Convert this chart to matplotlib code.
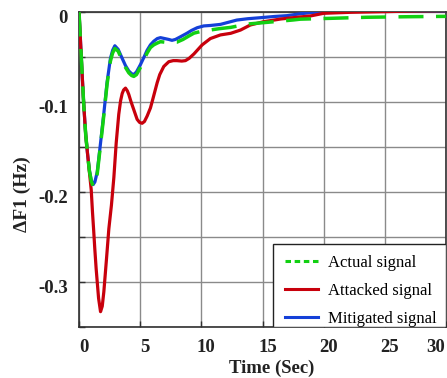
import numpy as np
import matplotlib
matplotlib.use("Agg")
import matplotlib.pyplot as plt
from matplotlib.lines import Line2D
from matplotlib.patches import Rectangle
from matplotlib.transforms import ScaledTranslation

# values
t_mitigated = [0, 0.12, 0.25, 0.39, 0.55, 0.7, 0.85, 1.0, 1.16, 1.3, 1.49, 1.76, 2.03,
               2.3, 2.57, 2.75, 2.93, 3.2, 3.53, 3.8, 4.07, 4.3, 4.48, 4.7, 5.02, 5.3,
               5.57, 5.84, 6.11, 6.4, 6.66, 7.0, 7.34, 7.6, 7.88, 8.3, 8.84, 9.2, 9.66,
               10.2, 10.74, 11.56, 12.2, 12.9, 13.8, 14.8, 16.0, 17.0, 18.1, 19.0, 20.0,
               22.0, 25.0, 28.0, 30.0]
v_mitigated = [0, -0.032, -0.068, -0.104, -0.137, -0.158, -0.176, -0.187, -0.192, -0.189,
               -0.178, -0.146, -0.113, -0.078, -0.052, -0.043, -0.038, -0.042, -0.052,
               -0.060, -0.066, -0.069, -0.070, -0.067, -0.059, -0.051, -0.043, -0.037,
               -0.033, -0.030, -0.029, -0.030, -0.031, -0.032, -0.031, -0.028, -0.024,
               -0.021, -0.018, -0.016, -0.0155, -0.0143, -0.012, -0.0095, -0.008, -0.0069,
               -0.0055, -0.0046, -0.0025, -0.0012, -0.0002, 0.0003, 0.0006, 0.0008, 0.0008]

t_actual = [0, 0.12, 0.25, 0.39, 0.55, 0.7, 0.85, 1.0, 1.16, 1.3, 1.49, 1.76, 2.03,
            2.3, 2.57, 2.75, 2.93, 3.2, 3.53, 3.8, 4.07, 4.3, 4.48, 4.7, 5.02, 5.3,
            5.57, 5.84, 6.11, 6.4, 6.66, 7.0, 7.34, 8.0, 8.5, 9.0, 9.4, 10.0, 10.74,
            11.5, 12.4, 13.0, 13.7, 15.4, 17.5, 18.1, 20.5, 23.5, 26.8, 30.0]
v_actual = [0, -0.032, -0.068, -0.104, -0.137, -0.158, -0.177, -0.188, -0.194, -0.191,
            -0.180, -0.148, -0.115, -0.080, -0.055, -0.046, -0.041, -0.044, -0.054,
            -0.062, -0.068, -0.071, -0.072, -0.070, -0.062, -0.054, -0.046, -0.040,
            -0.037, -0.035, -0.0335, -0.034, -0.034, -0.034, -0.031, -0.027, -0.024,
            -0.022, -0.0205, -0.019, -0.0176, -0.016, -0.014, -0.012, -0.0094, -0.0085,
            -0.0076, -0.0064, -0.0058, -0.0054]

t_attacked = [0, 0.12, 0.25, 0.39, 0.55, 0.7, 0.85, 1.0, 1.1, 1.2, 1.29, 1.4, 1.49, 1.6,
              1.76, 1.9, 2.03, 2.25, 2.44, 2.65, 2.85, 3.04, 3.25, 3.4, 3.53, 3.65, 3.8,
              3.95, 4.07, 4.25, 4.48, 4.75, 4.95, 5.16, 5.35, 5.57, 5.84, 6.0, 6.39, 6.6,
              6.93, 7.34, 7.7, 8.0, 8.4, 8.7, 9.0, 9.4, 9.8, 10.07, 10.74, 11.56, 12.4,
              13.2, 14.0, 15.1, 16.5, 18.1, 18.9, 20.0, 22.2, 24.9, 27.6, 30.0]
v_attacked = [0, -0.032, -0.068, -0.104, -0.137, -0.158, -0.178, -0.198, -0.222, -0.243,
              -0.263, -0.285, -0.300, -0.318, -0.333, -0.327, -0.311, -0.274, -0.241,
              -0.215, -0.184, -0.146, -0.114, -0.099, -0.091, -0.087, -0.085, -0.088,
              -0.092, -0.100, -0.109, -0.1196, -0.123, -0.124, -0.122, -0.116, -0.107,
              -0.099, -0.079, -0.070, -0.061, -0.0557, -0.0545, -0.0545, -0.055, -0.0545,
              -0.052, -0.047, -0.041, -0.037, -0.030, -0.026, -0.0242, -0.0206, -0.015,
              -0.0113, -0.0083, -0.006, -0.005, -0.002, -0.0009, -0.0002, 0.0006, 0.001]

x_ticks = [0, 5, 10, 15, 20, 25, 30]
y_ticks = [-0.35, -0.3, -0.25, -0.2, -0.15, -0.1, -0.05, 0]
y_tick_labels = ["", "-0.3", "", "-0.2", "", "-0.1", "", "0"]
labels = ["Actual signal", "Attacked signal", "Mitigated signal"]

c_green = "#12d012"
c_red = "#c8000c"
c_blue = "#1440d8"

serif = ["Liberation Serif", "DejaVu Serif"]
plt.rcParams["font.family"] = serif

fig = plt.figure(figsize=(4.47, 3.78), dpi=100)
ax = fig.add_axes([79 / 447, 51 / 378, 367 / 447, 315.5 / 378])

ax.plot(t_mitigated, v_mitigated, color=c_blue, lw=2.3, zorder=3)
ax.plot(t_attacked, v_attacked, color=c_red, lw=2.3, zorder=4)
ax.plot(t_actual, v_actual, color=c_green, lw=2.5, dashes=(7.2, 3.6), zorder=5)

ax.set_xlim(0, 30)
ax.set_ylim(-0.35, 0)
ax.set_xticks(x_ticks)
ax.set_yticks(y_ticks)
ax.set_yticklabels(y_tick_labels)
ax.grid(True, color="#8a8a8a", lw=1.0)
ax.set_axisbelow(True)
ax.tick_params(direction="in", length=4, width=1, color="#303030", labelsize=13.5, pad=8)
for lab in ax.get_xticklabels() + ax.get_yticklabels():
    lab.set_fontweight("bold")
    lab.set_color("#222222")
xlabs = ax.get_xticklabels()
for i, lab in enumerate(xlabs):
    dx = 5 if i < len(xlabs) - 1 else -10
    lab.set_transform(lab.get_transform() + ScaledTranslation(dx / 100, -1 / 100, fig.dpi_scale_trans))
for lab in ax.get_yticklabels():
    lab.set_transform(lab.get_transform() + ScaledTranslation(0, -5 / 100, fig.dpi_scale_trans))
for sp in ax.spines.values():
    sp.set_color("#303030")
    sp.set_linewidth(1.2)

ax.set_xlabel("Time (Sec)", fontsize=13.5, fontweight="bold", color="#222222")
ax.xaxis.set_label_coords(0.526, -0.105)
ax.set_ylabel("ΔF1 (Hz)", fontsize=14, fontweight="bold", color="#222222")
ax.yaxis.set_label_coords(-0.13, 0.42)

# legend frame sits flush with the bottom-right corner of the axes
frame = Rectangle((0.529, 0), 0.471, 0.263, transform=ax.transAxes, facecolor="white",
                  edgecolor="#222222", lw=1.0, zorder=9)
ax.add_patch(frame)

handles = [
    Line2D([], [], color=c_green, lw=2.2, dashes=(1.8, 1.2)),
    Line2D([], [], color=c_red, lw=2.2),
    Line2D([], [], color=c_blue, lw=2.2),
]
leg = ax.legend(handles, labels, loc="upper left", bbox_to_anchor=(0.561, 0.228),
                borderaxespad=0, borderpad=0, frameon=False, fontsize=12,
                handlelength=2.0, labelspacing=0.71, handletextpad=0.6)
leg.set_zorder(10)

fig.savefig("out.png", dpi=100)
